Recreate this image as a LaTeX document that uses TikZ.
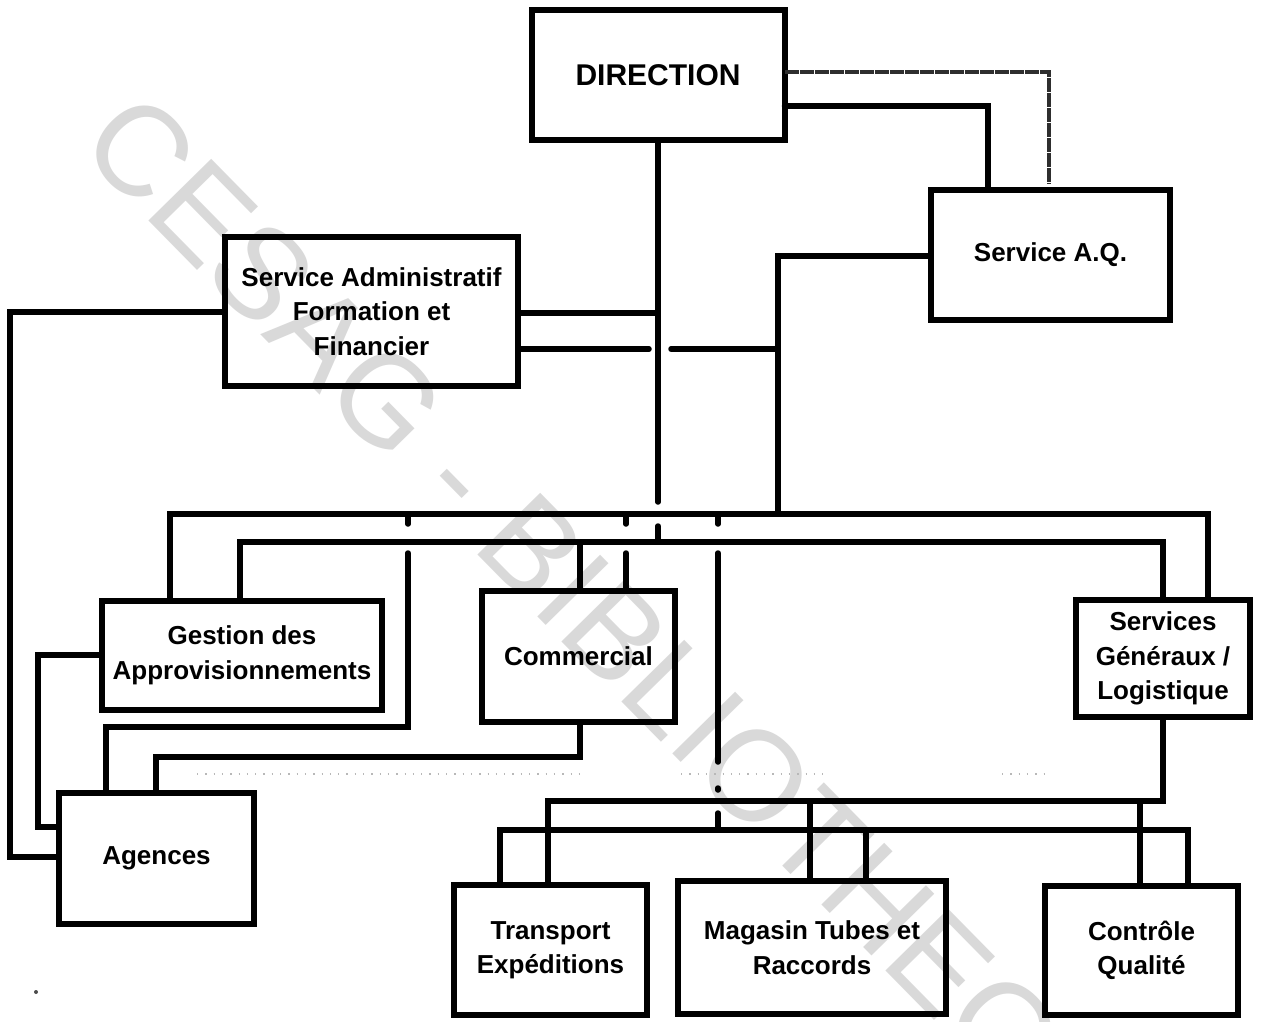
\documentclass[tikz,border=0pt]{standalone}
\usepackage{fontspec}
\setmainfont{Liberation Sans}
\begin{document}
\begin{tikzpicture}[x=1pt,y=-1pt,
  box/.style={draw, line width=6pt, rectangle, outer sep=0pt, inner sep=0pt, align=center,
    font=\bfseries\fontsize{26}{34.5}\selectfont},
  conn/.style={line width=5.5pt, line cap=round, line join=miter},
  roughline/.style={line width=4.5pt, draw=black!82, dash pattern=on 14pt off 1pt},
  scanline/.style={line width=1.3pt, draw=black!28, dash pattern=on 1.3pt off 7pt},
  wm/.style={text=black!15, rotate=-45.5, inner sep=0pt, font=\fontsize{128}{150}\selectfont}]
\fill[white] (0,0) rectangle (1264,1021);
\useasboundingbox (0,0) rectangle (1264,1021);

% watermark
\node[wm] (wmark) at (628,662) {CESAG - BIBLIOTHEQUE};

% boxes
\node[box, minimum width=253, minimum height=130, font=\bfseries\fontsize{30}{36}\selectfont] (dir) at (658,75) {DIRECTION};
\node[box, minimum width=239, minimum height=130] (aq) at (1050.5,255) {Service A.Q.};
\node[box, minimum width=293, minimum height=149] (adm) at (371.5,311.5) {Service Administratif\\Formation et\\Financier};
\node[box, minimum width=280, minimum height=109] (gest) at (242,655.5) {Gestion des\\Approvisionnements};
\node[box, minimum width=193, minimum height=131] (com) at (578.5,656.5) {Commercial};
\node[box, minimum width=174, minimum height=117] (sg) at (1163,658.5) {Services\\Généraux /\\Logistique};
\node[box, minimum width=195, minimum height=131] (ag) at (156.5,858.5) {Agences};
\node[box, minimum width=193, minimum height=130] (tr) at (550.5,950) {Transport\\Expéditions};
\node[box, minimum width=268, minimum height=133] (mag) at (812,947.5) {Magasin Tubes et\\Raccords};
\node[box, minimum width=193, minimum height=129] (cq) at (1141.5,950.5) {Contrôle\\Qualité};

% coordinates
\coordinate (b1L) at (170,514);  \coordinate (b1R) at (1208,514);
\coordinate (b2L) at (240,542);  \coordinate (b2R) at (1163,542);
\coordinate (b3L) at (548,801);  \coordinate (b3R) at (1163,801);
\coordinate (b4L) at (500,830);  \coordinate (b4R) at (1188,830);
\coordinate (dA) at (658,502);   \coordinate (dB) at (658,526);
\coordinate (aU) at (658,313);
\coordinate (aL1) at (649,349);  \coordinate (aL2) at (671,349);
\coordinate (aqc) at (778,256);
\coordinate (al) at (10,312);    \coordinate (al2) at (10,857);
\coordinate (dq) at (988,106);
\coordinate (dd) at (1049,72);   \coordinate (dd2) at (1049,183);
\coordinate (gl) at (38,655);    \coordinate (gl2) at (38,827);
\coordinate (v1a) at (408,514);  \coordinate (v1b) at (408,524);
\coordinate (v1c) at (408,553);  \coordinate (v1d) at (408,727);
\coordinate (v1e) at (106,727);
\coordinate (c1) at (580,542);
\coordinate (c2) at (626,514);   \coordinate (c2b) at (626,524);  \coordinate (c2c) at (626,553);
\coordinate (cb) at (580,757);   \coordinate (cb2) at (156,757);
\coordinate (m1) at (718,514);   \coordinate (m1b) at (718,524);
\coordinate (m1c) at (718,553);  \coordinate (m1d) at (718,762);
\coordinate (m2a) at (718,788);  \coordinate (m2b) at (718,790);
\coordinate (m3a) at (718,813);  \coordinate (m3b) at (718,830);
\coordinate (t1) at (810,801);   \coordinate (t2) at (1140,801);
\coordinate (t3) at (866,830);

% faint scan dots
\draw[scanline] (197,774) -- (587,774);
\draw[scanline] (681,774) -- (829,774);
\draw[scanline] (1002,774) -- (1044,774);
\fill[black!70] (36,992) circle (2);

% upper buses
\draw[conn] (gest.north -| b1L) -- (b1L) -- (b1R) -- (sg.north -| b1R);
\draw[conn] (gest.north -| b2L) -- (b2L) -- (b2R) -- (sg.north -| b2R);

% DIRECTION
\draw[conn] (dir.south) -- (dA);
\draw[conn] (dB) -- (dB |- b2L);
\draw[conn] (dir.east |- dq) -- (dq) -- (aq.north -| dq);
\draw[roughline] (dir.east |- dd) -- (dd) -- (dd2);

% Service administratif
\draw[conn] (adm.east |- aU) -- (aU);
\draw[conn] (adm.east |- aL1) -- (aL1);
\draw[conn] (aL2) -- (aL2 -| aqc);
\draw[conn] (aq.west |- aqc) -- (aqc) -- (aqc |- b1L);
\draw[conn] (adm.west |- al) -- (al) -- (al2) -- (ag.west |- al2);

% Gestion / Agences
\draw[conn] (gest.west |- gl) -- (gl) -- (gl2) -- (ag.west |- gl2);
\draw[conn] (v1a) -- (v1b);
\draw[conn] (v1c) -- (v1d) -- (v1e) -- (ag.north -| v1e);

% Commercial
\draw[conn] (c1) -- (com.north -| c1);
\draw[conn] (c2) -- (c2b);
\draw[conn] (c2c) -- (com.north -| c2c);
\draw[conn] (com.south -| cb) -- (cb) -- (cb2) -- (ag.north -| cb2);

% middle vertical
\draw[conn] (m1) -- (m1b);
\draw[conn] (m1c) -- (m1d);
\draw[conn] (m2a) -- (m2b);
\draw[conn] (m3a) -- (m3b);

% lower buses
\draw[conn] (sg.south -| b3R) -- (b3R) -- (b3L) -- (tr.north -| b3L);
\draw[conn] (t1) -- (mag.north -| t1);
\draw[conn] (t2) -- (cq.north -| t2);
\draw[conn] (tr.north -| b4L) -- (b4L) -- (b4R) -- (cq.north -| b4R);
\draw[conn] (t3) -- (mag.north -| t3);
\end{tikzpicture}
\end{document}
